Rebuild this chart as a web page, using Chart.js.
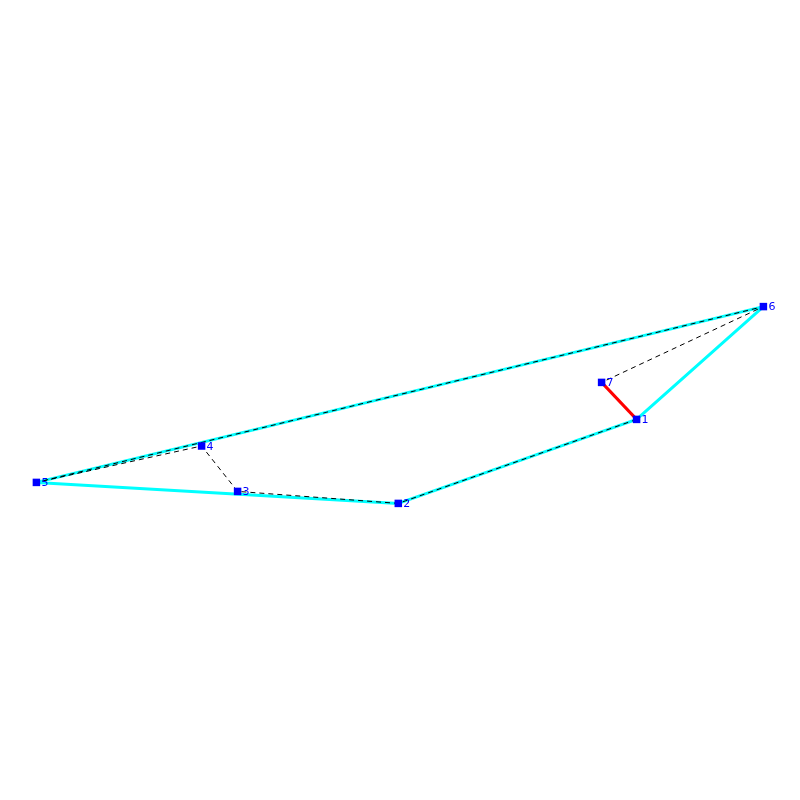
<!DOCTYPE html>
<html>
<head>
<meta charset="utf-8">
<script src="https://cdn.jsdelivr.net/npm/chart.js@4"></script>
<style>
  body { margin: 0; background: #fff; }
  canvas { display: block; }
</style>
</head>
<body>
<canvas id="chart" width="800" height="800"></canvas>
<script>
const labels = ["1", "2", "3", "4", "5", "6", "7"];
const xValues = [636.6, 398.3, 237.6, 201.6, 36.4, 763.4, 601.6];
const yValues = [419.4, 503.4, 491.4, 446.0, 482.4, 306.6, 382.4];

// indexes into the arrays above
const hullPath = [0, 1, 4, 5, 0];
const dashedPath = [0, 1, 2, 3, 4, 5, 6];
const redPath = [6, 0];

const toPoints = (path) => path.map((i) => ({ x: xValues[i], y: yValues[i] }));

const pointLabels = {
  id: "pointLabels",
  afterDatasetsDraw(chart) {
    const { ctx, scales } = chart;
    ctx.save();
    ctx.fillStyle = "#0000ff";
    ctx.font = "11px 'DejaVu Sans'";
    ctx.textBaseline = "middle";
    labels.forEach((text, i) => {
      ctx.fillText(text, scales.x.getPixelForValue(xValues[i]) + 5, scales.y.getPixelForValue(yValues[i]) + 1);
    });
    ctx.restore();
  },
};

new Chart(document.getElementById("chart"), {
  type: "scatter",
  data: {
    datasets: [
      {
        data: toPoints(hullPath),
        showLine: true,
        borderColor: "#00ffff",
        borderWidth: 3,
        borderJoinStyle: "round",
        pointRadius: 0,
        order: 4,
      },
      {
        data: toPoints(redPath),
        showLine: true,
        borderColor: "#ff0000",
        borderWidth: 3,
        pointRadius: 0,
        order: 3,
      },
      {
        data: toPoints(dashedPath),
        showLine: true,
        borderColor: "#000000",
        borderWidth: 1,
        borderDash: [5, 4],
        pointRadius: 0,
        order: 2,
      },
      {
        data: toPoints(dashedPath),
        showLine: false,
        pointStyle: "rect",
        pointRadius: 5.3,
        pointBackgroundColor: "#0000ff",
        pointBorderWidth: 0,
        order: 1,
      },
    ],
  },
  options: {
    responsive: false,
    animation: false,
    layout: { padding: 0, autoPadding: false },
    plugins: { legend: { display: false }, tooltip: { enabled: false } },
    scales: {
      x: { type: "linear", min: 0, max: 800, display: false },
      y: { type: "linear", min: 0, max: 800, reverse: true, display: false },
    },
  },
  plugins: [pointLabels],
});
</script>
</body>
</html>
